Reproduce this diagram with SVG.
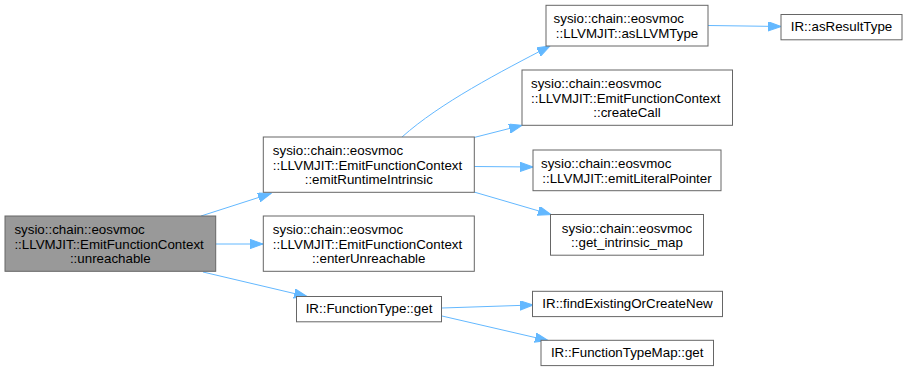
<svg xmlns="http://www.w3.org/2000/svg" width="909" height="371" viewBox="0 0 909 371">
  <style>
    .node rect { fill: #ffffff; stroke: #666666; stroke-width: 1; }
    .node.root rect { fill: #999999; }
    .node text { font-family: "Liberation Sans", Arial, Helvetica, sans-serif; font-size: 13.33px; fill: #000000; }
    .c { text-anchor: middle; }
    .l { text-anchor: start; }
    .edges path { fill: none; stroke: #63b8ff; stroke-width: 1; }
  </style>
  <defs>
    <marker id="arrow" markerUnits="userSpaceOnUse" markerWidth="14" markerHeight="10" refX="13" refY="4.65" orient="auto">
      <path d="M0,0 L13,4.65 L0,9.3 z" fill="#63b8ff" stroke="#63b8ff" stroke-width="1"/>
    </marker>
  </defs>
  <rect width="909" height="371" fill="#ffffff"/>

  <!-- call edges -->
  <g id="edges" class="edges">
    <path d="M201,216 L271,193.5" marker-end="url(#arrow)"/>
    <path d="M216,244 L263,244" marker-end="url(#arrow)"/>
    <path d="M203,272 L307,296.5" marker-end="url(#arrow)"/>
    <path d="M402,137 C440,103 500,72 550,46" marker-end="url(#arrow)"/>
    <path d="M474,137.5 L522,125.3" marker-end="url(#arrow)"/>
    <path d="M474,166.5 L533,167" marker-end="url(#arrow)"/>
    <path d="M474,192 L551,214.5" marker-end="url(#arrow)"/>
    <path d="M708,25.5 L781,26.5" marker-end="url(#arrow)"/>
    <path d="M442,308 L533,305" marker-end="url(#arrow)"/>
    <path d="M442,316 L548,340.5" marker-end="url(#arrow)"/>
  </g>

  <g id="node_unreachable" class="node root">
    <rect x="5" y="216" width="210.7" height="55.3"/>
    <text class="l" x="14.4" y="234">sysio::chain::eosvmoc</text>
    <text class="l" x="14.4" y="248.7">::LLVMJIT::EmitFunctionContext</text>
    <text class="c" x="110.3" y="263.3">::unreachable</text>
  </g>

  <g id="node_emitRuntimeIntrinsic" class="node">
    <rect x="263.3" y="137" width="211" height="55.3"/>
    <text class="l" x="272.8" y="155">sysio::chain::eosvmoc</text>
    <text class="l" x="272.8" y="169.7">::LLVMJIT::EmitFunctionContext</text>
    <text class="c" x="368.8" y="184.3">::emitRuntimeIntrinsic</text>
  </g>

  <g id="node_enterUnreachable" class="node">
    <rect x="263.3" y="216" width="211" height="55.3"/>
    <text class="l" x="272.8" y="234">sysio::chain::eosvmoc</text>
    <text class="l" x="272.8" y="248.7">::LLVMJIT::EmitFunctionContext</text>
    <text class="c" x="368.8" y="263.3">::enterUnreachable</text>
  </g>

  <g id="node_FunctionType_get" class="node">
    <rect x="296.5" y="296.5" width="145" height="25.3"/>
    <text class="c" x="369" y="313.2">IR::FunctionType::get</text>
  </g>

  <g id="node_asLLVMType" class="node">
    <rect x="546" y="5.3" width="162" height="40.7"/>
    <text class="l" x="553.6" y="23.3">sysio::chain::eosvmoc</text>
    <text class="c" x="627" y="38">::LLVMJIT::asLLVMType</text>
  </g>

  <g id="node_asResultType" class="node">
    <rect x="781" y="14.5" width="121" height="25.3"/>
    <text class="c" x="841.5" y="31.2">IR::asResultType</text>
  </g>

  <g id="node_createCall" class="node">
    <rect x="522" y="70" width="210.5" height="55.3"/>
    <text class="l" x="531" y="88">sysio::chain::eosvmoc</text>
    <text class="l" x="531" y="102.7">::LLVMJIT::EmitFunctionContext</text>
    <text class="c" x="627" y="117.3">::createCall</text>
  </g>

  <g id="node_emitLiteralPointer" class="node">
    <rect x="533" y="150" width="188" height="40.7"/>
    <text class="l" x="541" y="168">sysio::chain::eosvmoc</text>
    <text class="c" x="627" y="182.7">::LLVMJIT::emitLiteralPointer</text>
  </g>

  <g id="node_get_intrinsic_map" class="node">
    <rect x="550.5" y="214.5" width="153" height="40.7"/>
    <text class="l" x="561.8" y="232.5">sysio::chain::eosvmoc</text>
    <text class="c" x="627" y="247.2">::get_intrinsic_map</text>
  </g>

  <g id="node_findExistingOrCreateNew" class="node">
    <rect x="532.5" y="291.3" width="190" height="25.3"/>
    <text class="c" x="627.5" y="308">IR::findExistingOrCreateNew</text>
  </g>

  <g id="node_FunctionTypeMap_get" class="node">
    <rect x="541" y="340.3" width="172.5" height="25.3"/>
    <text class="c" x="627.2" y="357">IR::FunctionTypeMap::get</text>
  </g>
</svg>
